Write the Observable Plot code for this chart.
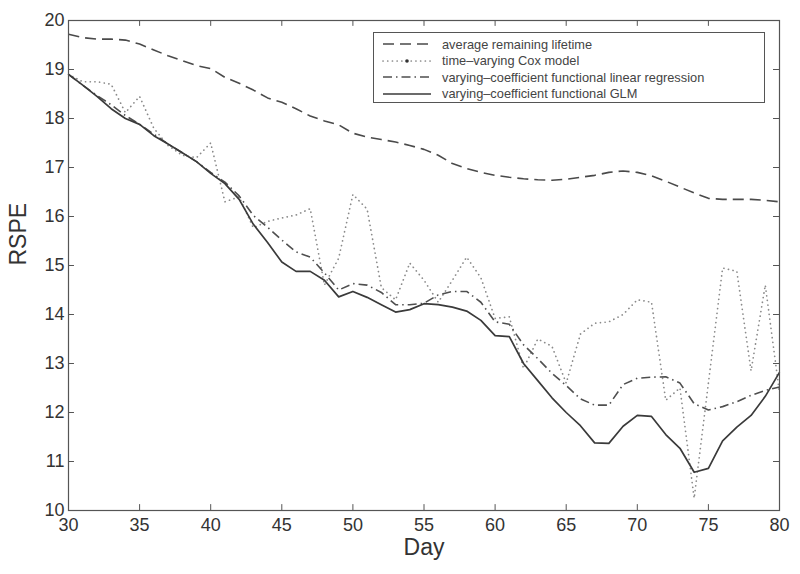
<!DOCTYPE html>
<html>
<head>
<meta charset="utf-8">
<script src="https://cdn.jsdelivr.net/npm/d3@7"></script>
<script src="https://cdn.jsdelivr.net/npm/@observablehq/plot@0.6"></script>
<style>
  html, body { margin: 0; padding: 0; background: #fff; }
  #wrap { position: relative; width: 800px; height: 574px; font-family: "Liberation Sans", Arial, Helvetica, sans-serif; }
  #legend { position: absolute; left: 373px; top: 32px; width: 392px; height: 71px; border: 1px solid #555; background: #fff; box-sizing: border-box; }
  .row { position: absolute; left: 0; height: 16px; display: flex; align-items: center; }
  .row svg { margin-left: 8px; }
  .row span { margin-left: 10px; font-size: 12.8px; color: #444; white-space: nowrap; }
</style>
</head>
<body>
<div id="wrap"></div>
<script>
const days = [30,31,32,33,34,35,36,37,38,39,40,41,42,43,44,45,46,47,48,49,50,51,52,53,54,55,56,57,58,59,60,61,62,63,64,65,66,67,68,69,70,71,72,73,74,75,76,77,78,79,80];

const avgLifetime = [19.72,19.65,19.62,19.62,19.6,19.52,19.4,19.28,19.18,19.08,19.02,
  18.84,18.72,18.58,18.42,18.33,18.2,18.05,17.95,17.87,17.7,
  17.62,17.57,17.52,17.45,17.37,17.25,17.08,16.98,16.9,16.84,
  16.8,16.77,16.75,16.74,16.76,16.8,16.84,16.9,16.93,16.9,
  16.83,16.72,16.6,16.48,16.37,16.35,16.35,16.35,16.33,16.3];

const coxModel = [18.9,18.75,18.75,18.7,18.12,18.45,17.8,17.45,17.25,17.2,17.5,
  16.3,16.4,15.77,15.9,15.97,16.03,16.16,14.6,15.15,16.45,
  16.15,14.55,14.3,15.05,14.7,14.25,14.7,15.17,14.75,13.92,
  13.95,12.9,13.5,13.35,12.6,13.6,13.82,13.85,14.0,14.3,
  14.25,12.25,12.5,10.25,12.6,14.95,14.88,12.85,14.6,12.4];

const linReg = [18.9,18.68,18.47,18.28,18.06,17.88,17.68,17.48,17.3,17.12,16.9,
  16.7,16.42,16.02,15.78,15.52,15.28,15.17,14.85,14.5,14.63,
  14.6,14.45,14.2,14.2,14.23,14.4,14.47,14.47,14.25,13.85,
  13.8,13.38,13.1,12.8,12.55,12.28,12.15,12.15,12.57,12.7,
  12.72,12.73,12.6,12.18,12.05,12.12,12.22,12.35,12.45,12.52];

const glm = [18.9,18.68,18.45,18.2,18.0,17.88,17.65,17.48,17.3,17.12,16.88,
  16.67,16.35,15.84,15.47,15.07,14.88,14.88,14.7,14.36,14.47,
  14.35,14.2,14.05,14.1,14.22,14.2,14.15,14.07,13.88,13.57,
  13.55,13.0,12.65,12.3,12.0,11.73,11.38,11.37,11.72,11.94,
  11.92,11.55,11.27,10.78,10.86,11.42,11.7,11.94,12.33,12.82];

const xTicks = [30,35,40,45,50,55,60,65,70,75,80];
const yTicks = [10,11,12,13,14,15,16,17,18,19,20];

const seriesNames = [
  "average remaining lifetime",
  "time\u2013varying Cox model",
  "varying\u2013coefficient functional linear regression",
  "varying\u2013coefficient functional GLM"
];
const seriesValues = [avgLifetime, coxModel, linReg, glm];
const seriesStyle = [
  {stroke: "#4a4a4a", strokeWidth: 1.6, strokeDasharray: "11,6", strokeLinecap: "butt"},
  {stroke: "#8a8a8a", strokeWidth: 1.7, strokeDasharray: "0.1,4.6", strokeLinecap: "round"},
  {stroke: "#4f4f4f", strokeWidth: 1.6, strokeDasharray: "9,4,1.5,4", strokeLinecap: "butt"},
  {stroke: "#3a3a3a", strokeWidth: 1.7, strokeDasharray: null, strokeLinecap: "butt"}
];

const rows = (vals) => days.map((d, i) => ({day: d, v: vals[i]}));

const lineMarks = seriesValues.map((vals, k) =>
  Plot.line(rows(vals), {x: "day", y: "v", ...seriesStyle[k], strokeLinejoin: "round", curve: "linear"})
);

const tickLenX = 0.42, tickLenY = 0.12;

const chart = Plot.plot({
  width: 800,
  height: 574,
  marginLeft: 68,
  marginRight: 21,
  marginTop: 20,
  marginBottom: 64,
  style: {fontFamily: "'Liberation Sans Narrow', 'Liberation Sans', Arial, Helvetica, sans-serif", fontSize: "18px", color: "#333", background: "#fff"},
  x: {domain: [30, 80], ticks: xTicks, tickSize: 0, tickPadding: 8, label: null, tickFormat: d => String(d)},
  y: {domain: [10, 20], ticks: yTicks, tickSize: 0, tickPadding: 4, label: null, tickFormat: d => String(d)},
  marks: [
    ...lineMarks,
    Plot.ruleX(xTicks, {x: d => d, y1: () => 10, y2: () => 10 + tickLenY, stroke: "#555"}),
    Plot.ruleX(xTicks, {x: d => d, y1: () => 20, y2: () => 20 - tickLenY, stroke: "#555"}),
    Plot.ruleY(yTicks, {y: d => d, x1: () => 30, x2: () => 30 + tickLenX, stroke: "#555"}),
    Plot.ruleY(yTicks, {y: d => d, x1: () => 80, x2: () => 80 - tickLenX, stroke: "#555"}),
    Plot.frame({stroke: "#555", strokeWidth: 1.2}),
    Plot.text(["Day"], {frameAnchor: "bottom", dy: 44, fontSize: 23, fill: "#333"}),
    Plot.text(["RSPE"], {frameAnchor: "left", dx: -50, rotate: -90, fontSize: 23, fill: "#333"})
  ]
});

const wrap = document.getElementById("wrap");
wrap.appendChild(chart);

// legend
const legend = document.createElement("div");
legend.id = "legend";
const rowTops = [3, 19.5, 36, 52.5];
seriesNames.forEach((name, k) => {
  const st = seriesStyle[k];
  const row = document.createElement("div");
  row.className = "row";
  row.style.top = rowTops[k] + "px";
  const ns = "http://www.w3.org/2000/svg";
  const svg = document.createElementNS(ns, "svg");
  svg.setAttribute("width", 50);
  svg.setAttribute("height", 16);
  const ln = document.createElementNS(ns, "line");
  ln.setAttribute("x1", 1); ln.setAttribute("x2", 49);
  ln.setAttribute("y1", 8); ln.setAttribute("y2", 8);
  ln.setAttribute("stroke", st.stroke);
  ln.setAttribute("stroke-width", st.strokeWidth);
  if (st.strokeDasharray) ln.setAttribute("stroke-dasharray", st.strokeDasharray);
  ln.setAttribute("stroke-linecap", st.strokeLinecap);
  svg.appendChild(ln);
  if (k === 1) {
    const c = document.createElementNS(ns, "circle");
    c.setAttribute("cx", 25); c.setAttribute("cy", 8); c.setAttribute("r", 1.8);
    c.setAttribute("fill", "#333");
    svg.appendChild(c);
  }
  row.appendChild(svg);
  const sp = document.createElement("span");
  sp.textContent = name;
  row.appendChild(sp);
  legend.appendChild(row);
});
wrap.appendChild(legend);
</script>
</body>
</html>
